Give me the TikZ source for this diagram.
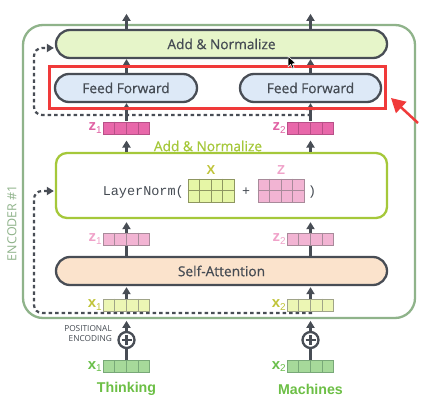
\documentclass[tikz,border=0pt]{standalone}
\usepackage{fontspec}
\setmainfont{Open Sans}
\newfontfamily\medf{Open Sans}[FakeBold=0.6]
\newfontfamily\monof{Liberation Mono}
\newfontfamily\boldf{Liberation Sans}
\usetikzlibrary{arrows.meta,calc}
\definecolor{dg}{HTML}{484D55}
\definecolor{txt}{HTML}{454B53}
\definecolor{addfill}{HTML}{E6F5C9}
\definecolor{fffill}{HTML}{DDE9F7}
\definecolor{safill}{HTML}{FBE3CC}
\definecolor{lngreen}{HTML}{A5C83A}
\definecolor{encgreen}{HTML}{8FB38A}
\definecolor{xlab}{HTML}{C0C43A}
\definecolor{xfill}{HTML}{E6F6A6}
\definecolor{xborder}{HTML}{8E9660}
\definecolor{zlab}{HTML}{F0A2C9}
\definecolor{zfill}{HTML}{F2B4D3}
\definecolor{zborder}{HTML}{A88A9A}
\definecolor{zdfill}{HTML}{E868AA}
\definecolor{zdborder}{HTML}{B85088}
\definecolor{zdlab}{HTML}{E062A4}
\definecolor{yfill}{HTML}{ECF6B4}
\definecolor{yborder}{HTML}{A0A488}
\definecolor{gfill}{HTML}{A6D99A}
\definecolor{gborder}{HTML}{78A878}
\definecolor{glab}{HTML}{6ABF4B}
\definecolor{wordgreen}{HTML}{6CBF45}
\definecolor{annred}{HTML}{F03A3A}
\newcommand\cellrow[4]{%
  \node[draw=#4, fill=#3, line width=1pt, minimum width=46pt, minimum height=12pt, inner sep=0pt] (#1) at (#2) {};
  \foreach \k in {1,2,3}{\draw[#4, line width=1pt] ($(#1.north west)!\k/4!(#1.north east)$) -- ($(#1.south west)!\k/4!(#1.south east)$);}
}
\newcommand\cellmat[4]{%
  \node[draw=#4, fill=#3, line width=1pt, minimum width=46pt, minimum height=23pt, inner sep=0pt] (#1) at (#2) {};
  \foreach \k in {1,2,3}{\draw[#4, line width=1pt] ($(#1.north west)!\k/4!(#1.north east)$) -- ($(#1.south west)!\k/4!(#1.south east)$);}
  \draw[#4, line width=1pt] (#1.west) -- (#1.east);
}
\newcommand\vlab[2]{{\boldf\bfseries\fontsize{15}{15}\selectfont #1}\raisebox{-2.5pt}{\boldf\fontsize{10}{10}\selectfont #2}}
\begin{document}
\begin{tikzpicture}[x=1pt,y=-1pt,
  arr/.style={draw=dg, line width=2.3pt, -{Triangle[width=8pt,length=7pt]}},
  plainline/.style={draw=dg, line width=2.3pt},
  pill/.style={draw=dg, line width=2.3pt, rounded corners=14pt, inner sep=0pt, font=\medf\fontsize{13.7}{14}\selectfont, text=txt},
  resid/.style={draw=dg, line width=2.2pt, dash pattern=on 3.5pt off 3pt, rounded corners=8pt, -{Triangle[width=8pt,length=7pt]}},
  lab/.style={anchor=east, inner sep=1pt},
]
\useasboundingbox[fill=white] (0,0) rectangle (435,409);

% outer encoder frame
\draw[encgreen, line width=2.3pt, rounded corners=20pt] (23,25) rectangle (415,318);
\node[rotate=90, text=encgreen, font=\fontsize{12.5}{13}\selectfont] (enc) at (12,223) {ENCODER \#1};

% boxes
\node[pill, fill=addfill, minimum width=331pt, minimum height=28pt] (addtop) at (221.5,44) {Add \& Normalize};
\node[pill, fill=fffill, minimum width=142pt, minimum height=28pt] (ff1) at (126,88) {Feed Forward};
\node[pill, fill=fffill, minimum width=141pt, minimum height=28pt] (ff2) at (310.5,88) {Feed Forward};
\node[draw=lngreen, line width=2.3pt, rounded corners=11pt, minimum width=331pt, minimum height=65pt, inner sep=0pt] (ln) at (221.5,185.5) {};
\node[text=lngreen, font=\medf\fontsize{13.7}{14}\selectfont] (addlab) at (208,146) {Add \& Normalize};
\node[pill, fill=safill, minimum width=331pt, minimum height=28pt] (sa) at (221.5,271) {Self-Attention};

% residual connections
\coordinate (r1s) at (311,115);
\coordinate (r2s) at (312,313);
\draw[resid, shorten >=1pt] (r1s) -- (34,115) -- (34,48) -- ([yshift=-4pt]addtop.west);
\draw[resid, shorten >=1pt] (r2s) -- (34,313) -- (34,191) -- ([yshift=-5.5pt]ln.west);

% vectors
\cellrow{zd1}{126.5,128}{zdfill}{zdborder}
\cellrow{zd2}{310.5,128}{zdfill}{zdborder}
\node[lab, text=zdlab] (zd1l) at (zd1.west) {\vlab{z}{1}};
\node[lab, text=zdlab] (zd2l) at (zd2.west) {\vlab{z}{2}};

% arrows upper part
\draw[arr] (addtop.north -| zd1) -- ++(0,-15);
\draw[arr] (addtop.north -| zd2) -- ++(0,-15);
\draw[arr] (ff1.north -| zd1) -- (addtop.south -| zd1);
\draw[arr] (ff2.north -| zd2) -- (addtop.south -| zd2);
\draw[arr, shorten <=1pt] (zd1.north) -- (ff1.south -| zd1);
\draw[arr, shorten <=1pt] (zd2.north) -- (ff2.south -| zd2);
\draw[arr, shorten >=6pt] (ln.north -| zd1) -- (zd1.south);
\draw[arr, shorten >=6pt] (ln.north -| zd2) -- (zd2.south);

% LayerNorm contents
\node[anchor=east, inner sep=0pt, text=txt, font=\monof\fontsize{13.5}{14}\selectfont] (lntext) at (184,192) {LayerNorm(};
\cellmat{xm}{211,190.5}{xfill}{xborder}
\cellmat{zm}{281,190.5}{zfill}{zborder}
\node[text=xlab, font=\boldf\bfseries\fontsize{13}{13}\selectfont] (xml) at (211,170) {X};
\node[text=zlab, font=\boldf\bfseries\fontsize{13}{13}\selectfont] (zml) at (281,170) {Z};
\node[text=txt, font=\monof\fontsize{13.3}{14}\selectfont] (plusop) at (246,192) {+};
\node[anchor=west, inner sep=0pt, text=txt, font=\monof\fontsize{13.3}{14}\selectfont] (rpar) at (308,192) {)};

% Self-attention outputs
\draw[arr, shorten >=3pt] (sa.north -| zd1) -- (ln.south -| zd1);
\draw[arr, shorten >=3pt] (sa.north -| zd2) -- (ln.south -| zd2);
\cellrow{zl1}{126.5,239}{zfill}{zborder}
\cellrow{zl2}{310.5,239}{zfill}{zborder}
\node[lab, text=zlab] (zl1l) at (zl1.west) {\vlab{z}{1}};
\node[lab, text=zlab] (zl2l) at (zl2.west) {\vlab{z}{2}};

% inputs
\cellrow{xa1}{126.5,305}{yfill}{yborder}
\cellrow{xa2}{310.5,305}{yfill}{yborder}
\node[lab, text=xlab] (xa1l) at (xa1.west) {\vlab{x}{1}};
\node[lab, text=xlab] (xa2l) at (xa2.west) {\vlab{x}{2}};
\draw[arr, shorten >=1pt] (xa1.north) -- (sa.south -| xa1);
\draw[arr, shorten >=1pt] (xa2.north) -- (sa.south -| xa2);

% positional encoding
\node[draw=dg, line width=2.3pt, circle, minimum size=16pt, inner sep=0pt] (p1) at (126.5,340) {};
\node[draw=dg, line width=2.3pt, circle, minimum size=16pt, inner sep=0pt] (p2) at (310.5,340) {};
\foreach \p in {p1,p2}{
  \draw[dg, line width=2.3pt] ([xshift=-5pt]\p.center) -- ([xshift=5pt]\p.center);
  \draw[dg, line width=2.3pt] ([yshift=-5pt]\p.center) -- ([yshift=5pt]\p.center);
}
\draw[arr] (p1.north) -- ++(0,-10);
\draw[arr] (p2.north) -- ++(0,-10);
\node[anchor=east, align=right, text=txt, inner sep=0pt, font=\fontsize{8.3}{10}\selectfont] (posenc) at (112,334) {POSITIONAL\\ENCODING};

\cellrow{xg1}{126.5,366.5}{gfill}{gborder}
\cellrow{xg2}{310.5,366.5}{gfill}{gborder}
\node[lab, text=glab] (xg1l) at (xg1.west) {\vlab{x}{1}};
\node[lab, text=glab] (xg2l) at (xg2.west) {\vlab{x}{2}};
\draw[plainline] (xg1.north) -- (p1.south);
\draw[plainline] (xg2.north) -- (p2.south);
\node[text=wordgreen, font=\boldf\bfseries\fontsize{14.2}{15}\selectfont] (w1) at (126.5,389) {Thinking};
\node[text=wordgreen, font=\boldf\bfseries\fontsize{14.2}{15}\selectfont] (w2) at (310.5,389) {Machines};

% annotation
\node[draw=annred, line width=3pt, minimum width=336pt, minimum height=41pt, inner sep=0pt] (redbox) at (217,87.5) {};
\coordinate (redtail) at (418,123);
\coordinate (redtip) at (391,98);
\draw[annred, line width=2.5pt, -{Triangle[width=15pt,length=14pt]}] (redtail) -- (redtip);
% cursor
\filldraw[fill=black, draw=white, line width=0.5pt] (288,56) -- (288,67) -- (290.6,64.4) -- (292.4,68.4) -- (294,67.6) -- (292.3,63.8) -- (295.8,63.6) -- cycle;
\end{tikzpicture}
\end{document}
